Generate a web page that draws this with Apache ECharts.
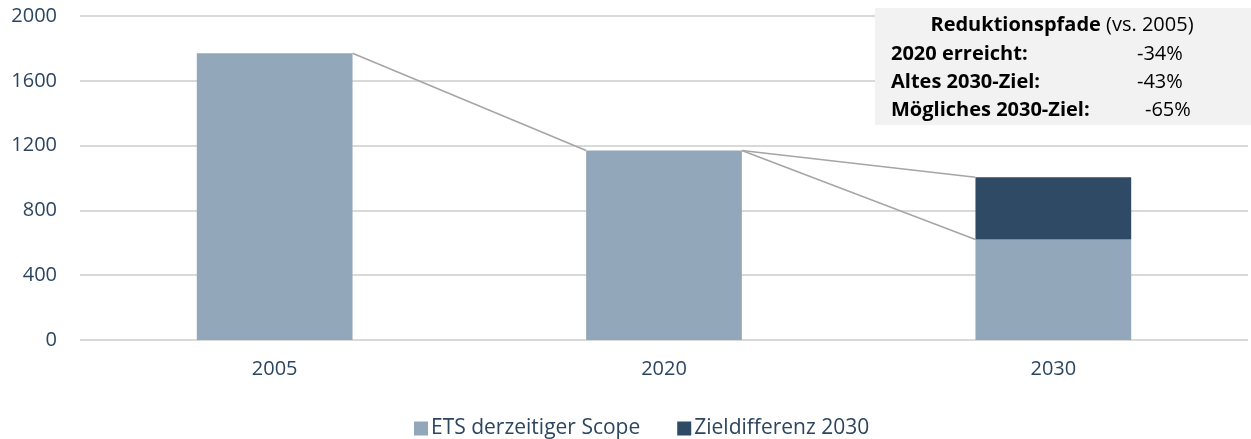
<!DOCTYPE html>
<html><head><meta charset="utf-8">
<script src="https://cdn.jsdelivr.net/npm/echarts@6/dist/echarts.min.js"></script>
<style>html,body{margin:0;padding:0;background:#fff}#c{width:1251px;height:439px}</style>
</head><body><div id="c"></div>
<script>
const categories = ['2005', '2020', '2030'];
const etsScope = [1770, 1170, 620];
const zielDifferenz = [null, null, 385];
const yTicks = [0, 400, 800, 1200, 1600, 2000];
const seriesNames = ['ETS derzeitiger Scope', 'Zieldifferenz 2030'];
const boxTitleBold = 'Reduktionspfade';
const boxTitleNormal = ' (vs. 2005)';
const boxLabels = ['2020 erreicht:', 'Altes 2030-Ziel:', 'Mögliches 2030-Ziel:'];
const boxValues = ['-34%', '-43%', '-65%'];

const FONT = 'Open Sans';
const TXT = '#2c4660';
const C_LIGHT = '#93a7bb';
const C_DARK = '#2e4a65';

const total = etsScope.map((v, i) => v + (zielDifferenz[i] || 0));
const connectors = [
  [0, total[0], 1, total[1]],
  [1, total[1], 2, total[2]],
  [1, total[1], 2, etsScope[2]]
];

const chart = echarts.init(document.getElementById('c'), null, {renderer: 'canvas'});
const boxX = 875, boxY = 8;
const BF = 20;
const graphics = [
  {type: 'rect', shape: {x: boxX, y: boxY, width: 1251 - boxX, height: 117}, style: {fill: '#f2f2f2'}, z: 10},
  {type: 'text', x: 1062, y: 25, z: 11, style: {
    text: '{b|' + boxTitleBold + '}{n|' + boxTitleNormal + '}', align: 'center', verticalAlign: 'middle',
    rich: {b: {fontFamily: FONT, fontSize: BF, fontWeight: 'bold', fill: '#000'}, n: {fontFamily: FONT, fontSize: BF, fill: '#000'}}
  }}
];
const rowY = [54, 82, 110];
const valX = [1137, 1137, 1145];
boxLabels.forEach((l, i) => {
  graphics.push({type: 'text', x: 891, y: rowY[i], z: 11, style: {text: l, fontFamily: FONT, fontSize: BF, fontWeight: 'bold', fill: '#000', verticalAlign: 'middle'}});
  graphics.push({type: 'text', x: valX[i], y: rowY[i], z: 11, style: {text: boxValues[i], fontFamily: FONT, fontSize: BF, fill: '#000', verticalAlign: 'middle'}});
});

chart.setOption({
  animation: false,
  grid: {left: 80, right: 3, top: 16, bottom: 99, containLabel: false},
  legend: {
    left: 409, top: 413, itemWidth: 14, itemHeight: 14, itemGap: 37, icon: 'rect',
    textStyle: {fontFamily: FONT, fontSize: 21, color: TXT, padding: [0, 0, 0, -2]},
    data: seriesNames
  },
  xAxis: {
    type: 'category', data: categories,
    axisLine: {show: false}, axisTick: {show: false},
    axisLabel: {fontFamily: FONT, fontSize: 20, color: TXT, margin: 19}
  },
  yAxis: {
    type: 'value', min: yTicks[0], max: yTicks[yTicks.length - 1], interval: yTicks[1] - yTicks[0],
    axisLine: {show: false}, axisTick: {show: false},
    axisLabel: {fontFamily: FONT, fontSize: 20, color: TXT, margin: 23, formatter: v => String(v)},
    splitLine: {lineStyle: {color: '#d9d9d9', width: 2}}
  },
  series: [
    {name: seriesNames[0], type: 'bar', stack: 's', barWidth: '40%', data: etsScope, itemStyle: {color: C_LIGHT}},
    {name: seriesNames[1], type: 'bar', stack: 's', barWidth: '40%', data: zielDifferenz, itemStyle: {color: C_DARK}},
    {
      type: 'custom', silent: true, z: 5, data: connectors,
      encode: {x: 0, y: 1},
      renderItem: function (params, api) {
        const band = api.size([1, 0])[0];
        const half = band * 0.2;
        const p1 = api.coord([api.value(0), api.value(1)]);
        const p2 = api.coord([api.value(2), api.value(3)]);
        return {type: 'line', shape: {x1: p1[0] + half, y1: p1[1], x2: p2[0] - half, y2: p2[1]},
          style: {stroke: '#a5a5a5', lineWidth: 1.5}};
      }
    }
  ],
  graphic: graphics
});
</script></body></html>
